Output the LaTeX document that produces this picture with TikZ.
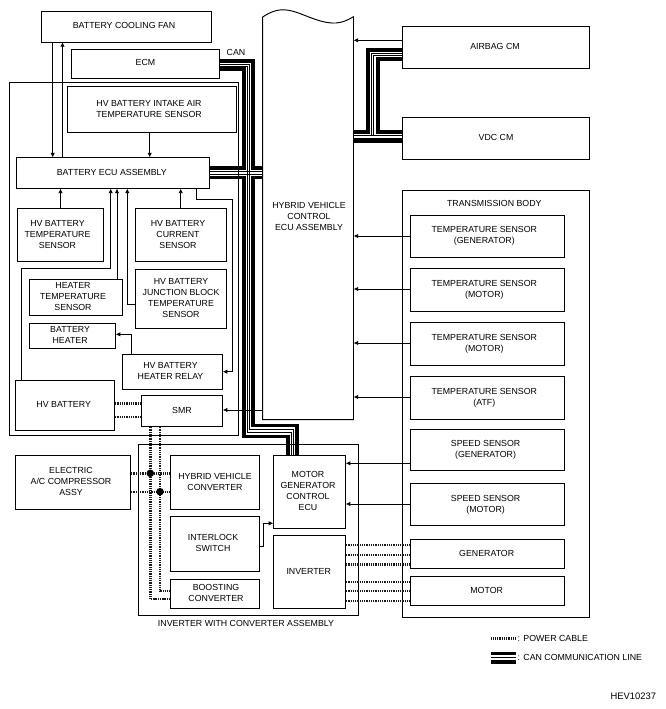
\documentclass[tikz,border=0pt]{standalone}
\usepackage{fontspec}
\setmainfont{Liberation Sans}
\usetikzlibrary{arrows.meta}
\tikzset{
  x=1pt,y=-1pt,
  boxnode/.style={draw=black,line width=0.95pt,inner sep=0pt,outer sep=0pt,fill=none},
  lab/.style={inner sep=0pt,outer sep=0pt,font=\fontsize{8.8}{11}\selectfont,align=center},
  arr/.style={line width=0.85pt,-{Latex[length=4.6pt,width=4.4pt]}},
  thickbus/.style={line width=3.8pt,line join=miter},
  thinbus/.style={line width=0.8pt},
  power/.style={line width=2.4pt,dash pattern=on 1.1pt off 0.7pt,black!90},
}
% name, x1, y1, x2, y2, text dx, text dy, text
\newcommand{\bx}[8]{%
  \pgfmathsetmacro{\bxcx}{(#2+#4)/2}%
  \pgfmathsetmacro{\bxcy}{(#3+#5)/2}%
  \pgfmathsetmacro{\bxw}{#4-#2}%
  \pgfmathsetmacro{\bxh}{#5-#3}%
  \pgfmathsetmacro{\bxdx}{2*(#6)}%
  \node[boxnode,minimum width=\bxw pt,minimum height=\bxh pt] (#1) at (\bxcx,\bxcy)
    {\raisebox{#7pt}{\fontsize{8.8}{11}\selectfont\ifdim #6pt<0pt\else\hspace*{\bxdx pt}\fi\begin{tabular}{@{}c@{}}#8\end{tabular}\ifdim #6pt<0pt\hspace*{-\bxdx pt}\fi}};%
}
\begin{document}
\begin{tikzpicture}
\useasboundingbox (0,0) rectangle (666,709);
\fill[white] (0,0) rectangle (666,709);
% large containers
\node[boxnode,minimum width=229pt,minimum height=353.7pt] (battbox) at (124,258.85) {};
\node[boxnode,minimum width=220pt,minimum height=171pt] (invbox) at (248.3,529.8) {};
\bx{trans}{402.3}{190.3}{589.7}{617}{0}{0}{}
% hybrid ECU body
\draw[line width=0.95pt] (262.7,419.7) -- (262.7,17) .. controls (270,12) and (278,9) .. (286,10)
  .. controls (300,11) and (318,24) .. (336,23) .. controls (343,22.5) and (348,20) .. (353.5,16.7)
  -- (353.5,419.7) -- cycle;
\node[lab] (hvecu) at (309,216.5) {HYBRID VEHICLE\\CONTROL\\ECU ASSEMBLY};
\coordinate (hvl) at (262.7,300);
\coordinate (hvr) at (353.5,300);
% boxes
\bx{fan}{41.5}{11.5}{211.5}{42}{-2.5}{1}{BATTERY COOLING FAN}
\bx{ecm}{71.5}{49.5}{219.5}{78}{0}{0.3}{ECM}
\bx{intake}{67.5}{86.5}{236.5}{132.5}{-3}{1.5}{HV BATTERY INTAKE AIR\\TEMPERATURE SENSOR}
\bx{becu}{16.5}{157.5}{209.5}{188.5}{-1.2}{0.7}{BATTERY ECU ASSEMBLY}
\bx{btemp}{17.5}{208.5}{103.5}{261.5}{-3}{1}{HV BATTERY\\TEMPERATURE\\SENSOR}
\bx{bcurr}{135.5}{208.5}{226.5}{261.5}{-3}{1}{HV BATTERY\\CURRENT\\SENSOR}
\bx{htemp}{29.5}{279}{122.5}{315.7}{-3}{0.6}{HEATER\\TEMPERATURE\\SENSOR}
\bx{junc}{135.5}{269.3}{226.5}{328.3}{0}{1.3}{HV BATTERY\\JUNCTION BLOCK\\TEMPERATURE\\SENSOR}
\bx{bheat}{29.5}{323.3}{115.7}{348.7}{-2.5}{1}{BATTERY\\HEATER}
\bx{relay}{122.3}{354.3}{222.7}{389.3}{-2}{0.8}{HV BATTERY\\HEATER RELAY}
\bx{hvb}{15.3}{380.3}{114.7}{430.3}{-1.3}{0.3}{HV BATTERY}
\bx{smr}{141.3}{395.3}{222.7}{426.7}{0}{0}{SMR}
\bx{elec}{15.3}{455.3}{130.7}{509.3}{-2}{0.6}{ELECTRIC\\A/C COMPRESSOR\\ASSY}
\bx{hconv}{170.3}{455.3}{259.7}{509.3}{0}{1.3}{HYBRID VEHICLE\\CONVERTER}
\bx{inter}{170.3}{516.3}{259.7}{571.7}{-2}{0.3}{INTERLOCK\\SWITCH}
\bx{boost}{170.3}{579.3}{259.7}{608.7}{1}{1}{BOOSTING\\CONVERTER}
\bx{mg}{273.3}{455.3}{345.7}{528.3}{-1.5}{1.5}{MOTOR\\GENERATOR\\CONTROL\\ECU}
\bx{inv}{273.3}{535.3}{345.7}{608.7}{-0.8}{1.5}{INVERTER}
\bx{airbag}{402.3}{26.3}{589.7}{68.3}{-1}{0.8}{AIRBAG CM}
\bx{vdc}{402.3}{117.3}{589.7}{159.3}{0}{0.8}{VDC CM}
\bx{tg}{410.3}{215.3}{564.3}{257}{-3}{1}{TEMPERATURE SENSOR\\(GENERATOR)}
\bx{tm}{410.3}{268.3}{564.3}{311}{-3}{1}{TEMPERATURE SENSOR\\(MOTOR)}
\bx{tm2}{410.3}{322.3}{564.3}{365}{-3}{1}{TEMPERATURE SENSOR\\(MOTOR)}
\bx{ta}{410.3}{376.3}{564.3}{419}{-3}{1}{TEMPERATURE SENSOR\\(ATF)}
\bx{sg}{410.3}{429}{564.3}{470.7}{-1.7}{1}{SPEED SENSOR\\(GENERATOR)}
\bx{sm}{410.3}{483.3}{564.3}{525.3}{-1.7}{1}{SPEED SENSOR\\(MOTOR)}
\bx{gen}{410.3}{539.3}{564.3}{568.3}{-0.6}{1.5}{GENERATOR}
\bx{mot}{410.3}{576.3}{564.3}{605.3}{-0.6}{0.8}{MOTOR}
% free labels
\node[lab] (tlabel) at (494.3,203.5) {TRANSMISSION BODY};
\node[lab] (canlabel) at (236,52.3) {CAN};
\node[lab] (invlabel) at (246,623.3) {INVERTER WITH CONVERTER ASSEMBLY};
\node[lab,anchor=west] (legp) at (517.7,638.7) {: POWER CABLE};
\node[lab,anchor=west] (legc) at (517.7,657.5) {: CAN COMMUNICATION LINE};
\node[lab,anchor=east,font=\fontsize{9.4}{11}\selectfont] (code) at (656,696.7) {HEV10237};
% signal wires
\draw[arr] (fan.south -| 52.7,0) -- (becu.north -| 52.7,0);
\draw[arr] (becu.north -| 62.5,0) -- (fan.south -| 62.5,0);
\draw[arr] (intake.south -| 149.7,0) -- (becu.north -| 149.7,0);
\draw[arr] (btemp.north -| 60.5,0) -- (becu.south -| 60.5,0);
\draw[arr] (bcurr.north -| 180.7,0) -- (becu.south -| 180.7,0);
\draw[arr] (hvb.north -| 21.5,0) -- (21.5,268.7) -- (110.7,268.7) -- (becu.south -| 110.7,0);
\draw[arr] (htemp.north -| 117,0) -- (becu.south -| 117,0);
\draw[arr] (junc.west |- 0,304.7) -- (127.3,304.7) -- (becu.south -| 127.3,0);
\draw[arr] (relay.north -| 131.3,0) -- (131.3,334.3) -- (bheat.east |- 0,334.3);
\draw[arr] (becu.south -| 196.3,0) -- (196.3,199.3) -- (232.7,199.3) -- (232.7,371.7) -- (relay.east |- 0,371.7);
\draw[arr] (hvl |- 0,410) -- (smr.east |- 0,410);
\draw[arr] (inter.east |- 0,546) -- (263,546) -- (263,523.3) -- (mg.west |- 0,523.3);
\draw[arr] (airbag.west |- 0,40.3) -- (hvr |- 0,40.3);
\draw[arr] (tg.west |- 0,236) -- (hvr |- 0,236);
\draw[arr] (tm.west |- 0,289) -- (hvr |- 0,289);
\draw[arr] (tm2.west |- 0,343) -- (hvr |- 0,343);
\draw[arr] (ta.west |- 0,397) -- (hvr |- 0,397);
\draw[arr] (sg.west |- 0,463.3) -- (mg.east |- 0,463.3);
\draw[arr] (sm.west |- 0,504) -- (mg.east |- 0,504);
% CAN: ECM to MG ECU
\draw[thickbus] (ecm.east |- 0,60.7) -- (252.7,60.7) -- (252.7,425.5) -- (296.7,425.5) -- (mg.north -| 296.7,0);
\draw[thinbus] (ecm.east |- 0,64.5) -- (249.6,64.5) -- (249.6,429) -- (293.6,429) -- (mg.north -| 293.6,0);
\draw[thinbus] (ecm.east |- 0,66.5) -- (247,66.5) -- (247,432) -- (291,432) -- (mg.north -| 291,0);
\draw[thickbus] (ecm.east |- 0,69) -- (243.7,69) -- (243.7,436.5) -- (288,436.5) -- (mg.north -| 288,0);
% CAN: Battery ECU crossing
\draw[thickbus] (becu.east |- 0,167.7) -- (243.7,167.7);
\draw[thickbus] (becu.east |- 0,177.5) -- (243.7,177.5);
\draw[thickbus] (252.7,167.7) -- (hvl |- 0,167.7);
\draw[thickbus] (252.7,177.5) -- (hvl |- 0,177.5);
\fill[white] (240.5,169.6) rectangle (256.5,175.6);
\draw[thinbus] (becu.east |- 0,171) -- (hvl |- 0,171);
\draw[thinbus] (becu.east |- 0,174.3) -- (hvl |- 0,174.3);
\draw[thinbus] (247,169.5) -- (247,175.7);
\draw[thinbus] (249.6,169.5) -- (249.6,175.7);
% CAN: airbag / VDC to hybrid ECU
\draw[thickbus] (airbag.west |- 0,50) -- (367.7,50) -- (367.7,131.7) -- (hvr |- 0,131.7);
\draw[thinbus] (airbag.west |- 0,53.7) -- (371.5,53.7) -- (371.5,135.7);
\draw[thinbus] (airbag.west |- 0,55.7) -- (373.7,55.7) -- (373.7,135.7);
\draw[thickbus] (airbag.west |- 0,59) -- (377.7,59) -- (377.7,131.7) -- (vdc.west |- 0,131.7);
\draw[thinbus] (hvr |- 0,135.7) -- (vdc.west |- 0,135.7);
\draw[thinbus] (hvr |- 0,138) -- (vdc.west |- 0,138);
\draw[thickbus] (hvr |- 0,141) -- (vdc.west |- 0,141);
% power cables
\draw[power] (hvb.east |- 0,403.3) -- (smr.west |- 0,403.3);
\draw[power] (hvb.east |- 0,416.7) -- (smr.west |- 0,416.7);
\draw[power] (smr.south -| 150.3,0) -- (150.3,599) -- (boost.west |- 0,599);
\draw[power] (smr.south -| 160,0) -- (160,591) -- (boost.west |- 0,591);
\draw[power] (elec.east |- 0,473.3) -- (hconv.west |- 0,473.3);
\draw[power] (elec.east |- 0,491.7) -- (hconv.west |- 0,491.7);
\fill (150.3,473.3) circle (3.8);
\fill (160,491.7) circle (3.8);
\foreach \yy in {545,554.7,564.3}{\draw[power] (inv.east |- 0,\yy) -- (gen.west |- 0,\yy);}
\foreach \yy in {581.7,591,600.7}{\draw[power] (inv.east |- 0,\yy) -- (mot.west |- 0,\yy);}
% legend
\coordinate (legpe) at (515.3,638.3);
\draw[power] (491.3,638.3) -- (legpe);
\fill (491.3,652) rectangle (515.5,655);
\draw[thinbus] (491.3,657.2) -- (515.5,657.2);
\fill (491.3,659.7) rectangle (515.5,663.5);
\end{tikzpicture}
\end{document}
